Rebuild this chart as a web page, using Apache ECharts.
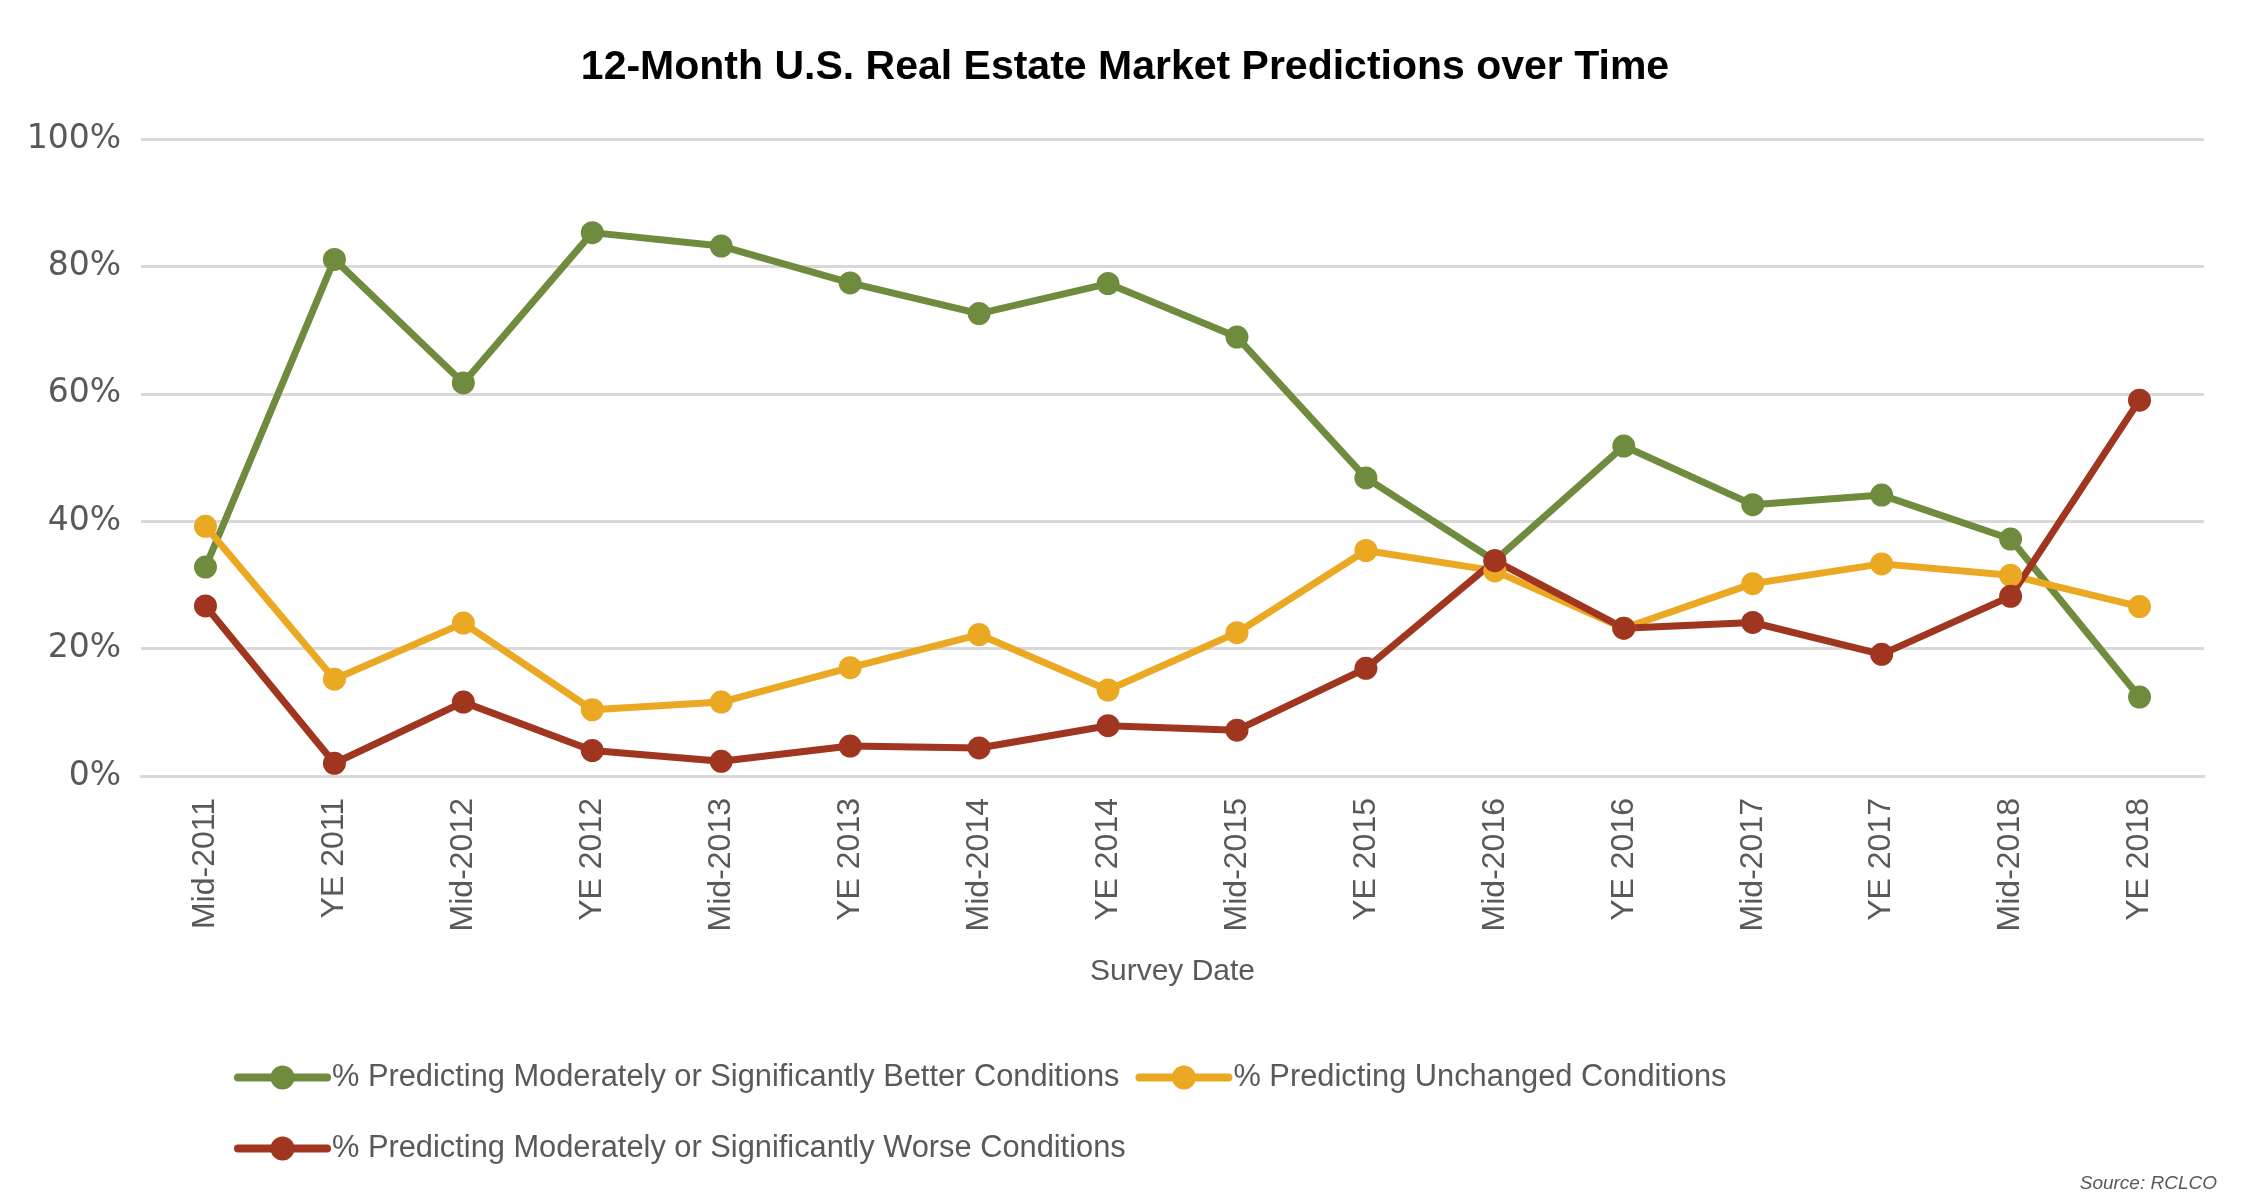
<!DOCTYPE html>
<html>
<head>
<meta charset="utf-8">
<script src="https://cdn.jsdelivr.net/npm/echarts@6/dist/echarts.min.js"></script>
<style>html,body{margin:0;padding:0;background:#fff}#c{width:2250px;height:1200px}</style>
</head>
<body>
<div id="c"></div>
<script>
const categories = ["Mid-2011","YE 2011","Mid-2012","YE 2012","Mid-2013","YE 2013","Mid-2014","YE 2014","Mid-2015","YE 2015","Mid-2016","YE 2016","Mid-2017","YE 2017","Mid-2018","YE 2018"];
const better = [32.8,81.1,61.7,85.3,83.2,77.4,72.6,77.3,68.9,46.8,33.8,51.8,42.6,44.1,37.2,12.4];
const unchanged = [39.2,15.2,24.0,10.4,11.6,17.0,22.2,13.5,22.5,35.4,32.2,23.2,30.2,33.3,31.5,26.6];
const worse = [26.7,2.0,11.6,4.0,2.3,4.7,4.4,7.9,7.2,16.9,33.8,23.2,24.1,19.1,28.2,59.0];
const seriesNames = ["% Predicting Moderately or Significantly Better Conditions","% Predicting Unchanged Conditions","% Predicting Moderately or Significantly Worse Conditions"];
const yTicks = [0,20,40,60,80,100];

const colors = ["#6F8B3D","#EBA823","#A03520"];
const sans = "'Liberation Sans', Arial, sans-serif";
const chart = echarts.init(document.getElementById('c'), null, {renderer:'canvas'});
function mk(name, data, color){
  return {
    name: name, type: 'line', data: data,
    symbol: 'circle', symbolSize: 23,
    lineStyle: {color: color, width: 7},
    itemStyle: {color: color},
    animation: false
  };
}
chart.setOption({
  animation: false,
  color: colors,
  title: {
    text: '12-Month U.S. Real Estate Market Predictions over Time',
    left: 'center', top: 42,
    textStyle: {fontFamily: sans, fontWeight: 'bold', fontSize: 41, color: '#000'}
  },
  grid: {left: 141, right: 46, top: 139, bottom: 424, containLabel: false},
  xAxis: {
    type: 'category', data: categories, boundaryGap: true,
    axisLine: {lineStyle: {color: '#d9d9d9', width: 3}},
    axisTick: {show: false},
    axisLabel: {rotate: 90, margin: 22, color: '#595959', fontFamily: sans, fontSize: 32, interval: 0},
    name: 'Survey Date', nameLocation: 'middle', nameGap: 181,
    nameTextStyle: {fontFamily: sans, fontSize: 30, color: '#595959'}
  },
  yAxis: {
    type: 'value', min: 0, max: 100, interval: 20,
    axisLine: {show: false}, axisTick: {show: false},
    axisLabel: {formatter: v => yTicks.includes(v) ? v + '%' : '', margin: 20, color: '#595959', fontFamily: "'DejaVu Sans', sans-serif", fontSize: 33},
    splitLine: {lineStyle: {color: '#d9d9d9', width: 3}}
  },
  legend: {
    left: 229, top: 1045, width: 1560,
    itemWidth: 89, itemHeight: 30, itemGap: 16,
    lineStyle: {width: 8, cap: 'round'},
    textStyle: {fontFamily: sans, fontSize: 30.8, color: '#595959', lineHeight: 55},
    data: seriesNames
  },
  graphic: [{
    type: 'text', right: 33, top: 1174,
    style: {text: 'Source: RCLCO', font: "italic 19px 'Liberation Sans', sans-serif", fill: '#595959'}
  }],
  series: [mk(seriesNames[0], better, colors[0]), mk(seriesNames[1], unchanged, colors[1]), mk(seriesNames[2], worse, colors[2])]
});
</script>
</body>
</html>
